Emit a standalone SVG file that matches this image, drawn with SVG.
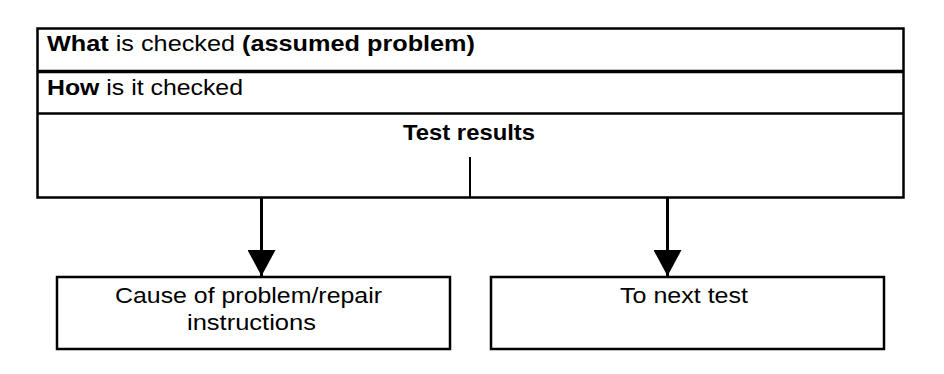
<svg xmlns="http://www.w3.org/2000/svg" width="944" height="374" viewBox="0 0 944 374">
<style>
.t{font-family:"Liberation Sans",Arial,sans-serif;font-size:22px;fill:#000}
.b{font-weight:bold}
.box{fill:#fff;stroke:#000;stroke-width:2.5}
.ln{stroke:#000;fill:none}
</style>
<defs>
<marker id="ah" markerUnits="userSpaceOnUse" markerWidth="26" markerHeight="28" refX="26" refY="14" orient="auto" viewBox="0 0 26 28">
<path d="M0,0 L26,14 L0,28 Z" fill="#000"/>
</marker>
</defs>
<g id="test-table">
<rect class="box" x="37.5" y="28.5" width="866" height="169"/>
<line class="ln" x1="37.5" y1="71.5" x2="903.5" y2="71.5" stroke-width="3.5"/>
<line class="ln" x1="37.5" y1="113.5" x2="903.5" y2="113.5" stroke-width="2.5"/>
<line class="ln" x1="470" y1="157" x2="470" y2="197" stroke-width="2"/>
<text class="t" x="47" y="51" textLength="428" lengthAdjust="spacingAndGlyphs"><tspan class="b">What</tspan> is checked <tspan class="b">(assumed problem)</tspan></text>
<text class="t" x="47" y="95" textLength="196" lengthAdjust="spacingAndGlyphs"><tspan class="b">How</tspan> is it checked</text>
<text class="t b" x="403" y="140" textLength="132" lengthAdjust="spacingAndGlyphs">Test results</text>
</g>
<g id="connectors">
<line class="ln" x1="261.5" y1="197" x2="261.5" y2="276" stroke-width="3" marker-end="url(#ah)"/>
<line class="ln" x1="667.5" y1="197" x2="667.5" y2="276" stroke-width="3" marker-end="url(#ah)"/>
</g>
<g id="cause">
<rect class="box" x="57" y="277" width="393" height="72"/>
<text class="t" x="115" y="303" textLength="267" lengthAdjust="spacingAndGlyphs">Cause of problem/repair</text>
<text class="t" x="187" y="330" textLength="129" lengthAdjust="spacingAndGlyphs">instructions</text>
</g>
<g id="next-test">
<rect class="box" x="491" y="277" width="393" height="72"/>
<text class="t" x="620" y="303" textLength="128" lengthAdjust="spacingAndGlyphs">To next test</text>
</g>
</svg>
